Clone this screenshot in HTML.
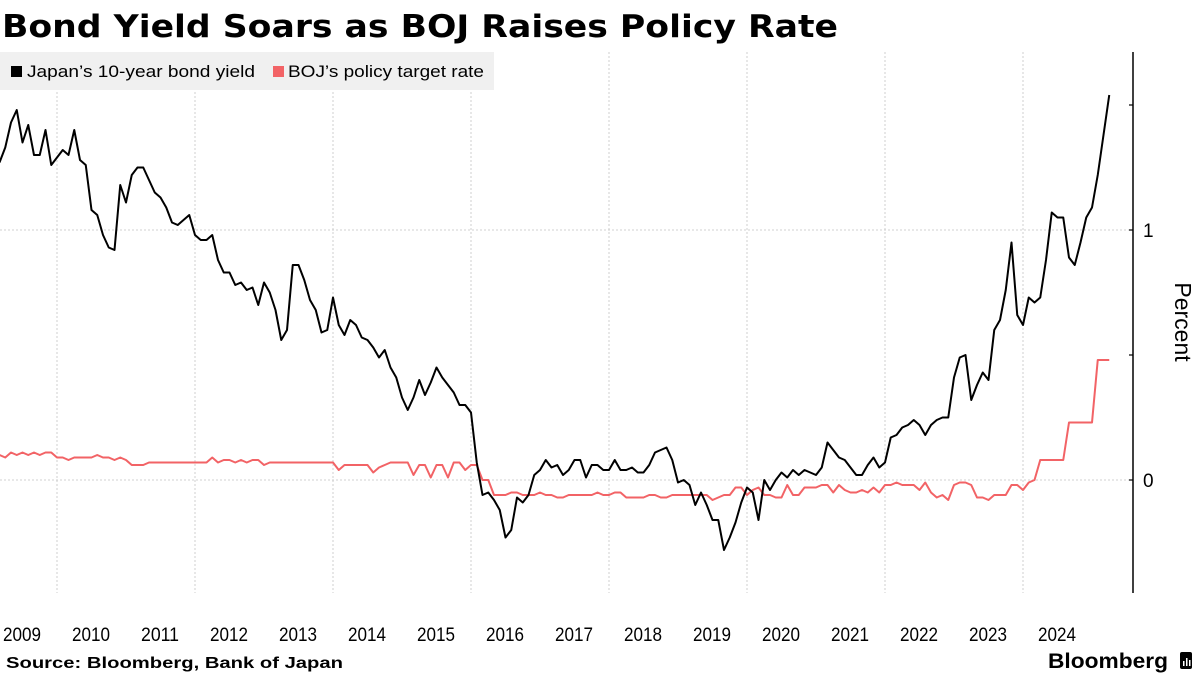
<!DOCTYPE html>
<html><head><meta charset="utf-8"><style>
html,body{margin:0;padding:0;background:#fff;}
svg{display:block;font-family:"Liberation Sans","DejaVu Sans",sans-serif;}
</style></head><body>
<svg id="chart" width="1200" height="675" viewBox="0 0 1200 675">
<text x="2" y="37" font-size="31" font-weight="bold" font-family="DejaVu Sans, sans-serif" textLength="836" lengthAdjust="spacingAndGlyphs">Bond Yield Soars as BOJ Raises Policy Rate</text>
<g id="grid"></g>
<rect x="0" y="52" width="494" height="38" fill="#f0f0f0"/>
<g>
<rect x="11" y="66" width="11" height="11" fill="#000"/>
<text x="27" y="77" font-size="17" textLength="228" lengthAdjust="spacingAndGlyphs">Japan’s 10-year bond yield</text>
</g>
<g>
<rect x="273" y="66" width="11" height="11" fill="#f26366"/>
<text x="288" y="77" font-size="17" textLength="196" lengthAdjust="spacingAndGlyphs">BOJ’s policy target rate</text>
</g>
<g id="axis"></g>
<text transform="translate(1175,322) rotate(90)" text-anchor="middle" font-size="23">Percent</text>
<g id="xlabels"></g>
<g id="series"></g>
<text x="6" y="668" font-size="16" font-weight="bold" textLength="337" lengthAdjust="spacingAndGlyphs">Source: Bloomberg, Bank of Japan</text>
<text x="1168" y="668" font-size="21" font-weight="bold" text-anchor="end" textLength="120" lengthAdjust="spacingAndGlyphs">Bloomberg</text>
<g><rect x="1180" y="652" width="12" height="17" rx="2" fill="#000"/><rect x="1183" y="661" width="1.5" height="5" fill="#fff"/><rect x="1186" y="658" width="1.5" height="8" fill="#fff"/><rect x="1189" y="660" width="1.5" height="6" fill="#fff"/></g>
</svg>
<script>
const years = [2009,2010,2011,2012,2013,2014,2015,2016,2017,2018,2019,2020,2021,2022,2023,2024];
const gridYears = [2010,2012,2014,2016,2018,2020,2022,2024];
const yTicks = [0, 0.5, 1, 1.5];
const yLabels = [0, 1];
const startYear = 2009, startMonth = 2; // March 2009
const bondYield = [1.27,1.33,1.43,1.48,1.35,1.42,1.30,1.30,1.40,1.26,1.29,1.32,1.30,1.40,1.28,1.26,1.08,1.06,0.98,0.93,0.92,1.18,1.11,1.22,1.25,1.25,1.20,1.15,1.13,1.09,1.03,1.02,1.04,1.06,0.98,0.96,0.96,0.98,0.88,0.83,0.83,0.78,0.79,0.76,0.77,0.70,0.79,0.75,0.68,0.56,0.60,0.86,0.86,0.80,0.72,0.68,0.59,0.60,0.73,0.62,0.58,0.64,0.62,0.57,0.56,0.53,0.49,0.52,0.45,0.41,0.33,0.28,0.33,0.40,0.34,0.39,0.45,0.41,0.38,0.35,0.30,0.30,0.27,0.07,-0.06,-0.05,-0.08,-0.12,-0.23,-0.20,-0.07,-0.09,-0.06,0.02,0.04,0.08,0.05,0.06,0.02,0.04,0.08,0.08,0.01,0.06,0.06,0.04,0.04,0.08,0.04,0.04,0.05,0.03,0.03,0.06,0.11,0.12,0.13,0.08,-0.01,0.00,-0.02,-0.10,-0.05,-0.10,-0.16,-0.16,-0.28,-0.23,-0.17,-0.09,-0.03,-0.05,-0.16,0.00,-0.04,0.00,0.03,0.01,0.04,0.02,0.04,0.03,0.02,0.05,0.15,0.12,0.09,0.08,0.05,0.02,0.02,0.06,0.09,0.05,0.07,0.17,0.18,0.21,0.22,0.24,0.22,0.18,0.22,0.24,0.25,0.25,0.41,0.49,0.50,0.32,0.38,0.43,0.40,0.60,0.64,0.76,0.95,0.66,0.62,0.73,0.71,0.73,0.88,1.07,1.05,1.05,0.89,0.86,0.95,1.05,1.09,1.22,1.38,1.54];
const policyRate = [0.10,0.09,0.11,0.10,0.11,0.10,0.11,0.10,0.11,0.11,0.09,0.09,0.08,0.09,0.09,0.09,0.09,0.10,0.09,0.09,0.08,0.09,0.08,0.06,0.06,0.06,0.07,0.07,0.07,0.07,0.07,0.07,0.07,0.07,0.07,0.07,0.07,0.09,0.07,0.08,0.08,0.07,0.08,0.07,0.08,0.08,0.06,0.07,0.07,0.07,0.07,0.07,0.07,0.07,0.07,0.07,0.07,0.07,0.07,0.04,0.06,0.06,0.06,0.06,0.06,0.03,0.05,0.06,0.07,0.07,0.07,0.07,0.02,0.06,0.06,0.01,0.06,0.06,0.01,0.07,0.07,0.04,0.06,0.06,0.00,0.00,-0.06,-0.06,-0.06,-0.05,-0.05,-0.06,-0.06,-0.06,-0.05,-0.06,-0.06,-0.07,-0.07,-0.06,-0.06,-0.06,-0.06,-0.06,-0.05,-0.06,-0.06,-0.05,-0.05,-0.07,-0.07,-0.07,-0.07,-0.06,-0.06,-0.07,-0.07,-0.06,-0.06,-0.06,-0.06,-0.06,-0.06,-0.06,-0.08,-0.07,-0.06,-0.06,-0.03,-0.03,-0.06,-0.04,-0.03,-0.06,-0.06,-0.07,-0.07,-0.02,-0.06,-0.06,-0.03,-0.03,-0.03,-0.02,-0.02,-0.05,-0.02,-0.04,-0.05,-0.05,-0.04,-0.05,-0.03,-0.05,-0.02,-0.02,-0.01,-0.02,-0.02,-0.02,-0.04,-0.01,-0.05,-0.07,-0.06,-0.08,-0.02,-0.01,-0.01,-0.02,-0.07,-0.07,-0.08,-0.06,-0.06,-0.06,-0.02,-0.02,-0.04,-0.01,0.00,0.08,0.08,0.08,0.08,0.08,0.23,0.23,0.23,0.23,0.23,0.48,0.48,0.48];

const NS = "http://www.w3.org/2000/svg";
const PLOT_LEFT = 0, PLOT_RIGHT = 1133, PLOT_TOP = 52, PLOT_BOTTOM = 593;
const X0 = -12, YEAR_W = 69;
function xOfMonth(m){ return X0 + (startYear - 2009) * YEAR_W + (startMonth + m) * YEAR_W / 12; }
function xOfYear(y){ return X0 + (y - 2009) * YEAR_W; }
function yOf(v){ return 480 - v * 250; }
function mk(tag, attrs, parent){
  const e = document.createElementNS(NS, tag);
  for (const k in attrs) e.setAttribute(k, attrs[k]);
  parent.appendChild(e);
  return e;
}
const grid = document.getElementById('grid');
gridYears.forEach(function(y){
  const l = mk('line', {x1:xOfYear(y), x2:xOfYear(y), y1:PLOT_TOP, y2:PLOT_BOTTOM, stroke:'#c4c4c4', 'stroke-width':0.8, 'stroke-dasharray':'2,2'}, grid);
  
  
});
yLabels.forEach(function(v){
  const l = mk('line', {x1:PLOT_LEFT, x2:PLOT_RIGHT, y1:yOf(v), y2:yOf(v), stroke:'#c4c4c4', 'stroke-width':0.8, 'stroke-dasharray':'2,2'}, grid);
  
  
});
const axis = document.getElementById('axis');
const al = mk('line', {x1:PLOT_RIGHT, x2:PLOT_RIGHT, y1:PLOT_TOP, y2:PLOT_BOTTOM, stroke:'#000', 'stroke-width':1.5}, axis);


yTicks.forEach(function(v){
  const t = mk('line', {x1:PLOT_RIGHT-4, x2:PLOT_RIGHT, y1:yOf(v), y2:yOf(v), stroke:'#000', 'stroke-width':1.2}, axis);
  
  
});
yLabels.forEach(function(v){
  const t = mk('text', {x:PLOT_RIGHT+10, y:yOf(v)+7, 'font-size':19}, axis);
  t.textContent = String(v);
  
  
});
const xl = document.getElementById('xlabels');
years.forEach(function(y){
  const t = mk('text', {x:xOfYear(y)+YEAR_W/2 - 0.5, y:641, 'font-size':19, 'text-anchor':'middle', textLength:38, lengthAdjust:'spacingAndGlyphs'}, xl);
  t.textContent = String(y);
  
  
});
const series = document.getElementById('series');
function path(arr){ return arr.map(function(v,i){ return (i?'L':'M') + xOfMonth(i).toFixed(2) + ',' + yOf(v).toFixed(2); }).join(''); }
const pr = mk('path', {d:path(policyRate), fill:'none', stroke:'#f26366', 'stroke-width':2, 'stroke-linejoin':'round'}, series);


const by = mk('path', {d:path(bondYield), fill:'none', stroke:'#000', 'stroke-width':2, 'stroke-linejoin':'round'}, series);


</script>
</body></html>
